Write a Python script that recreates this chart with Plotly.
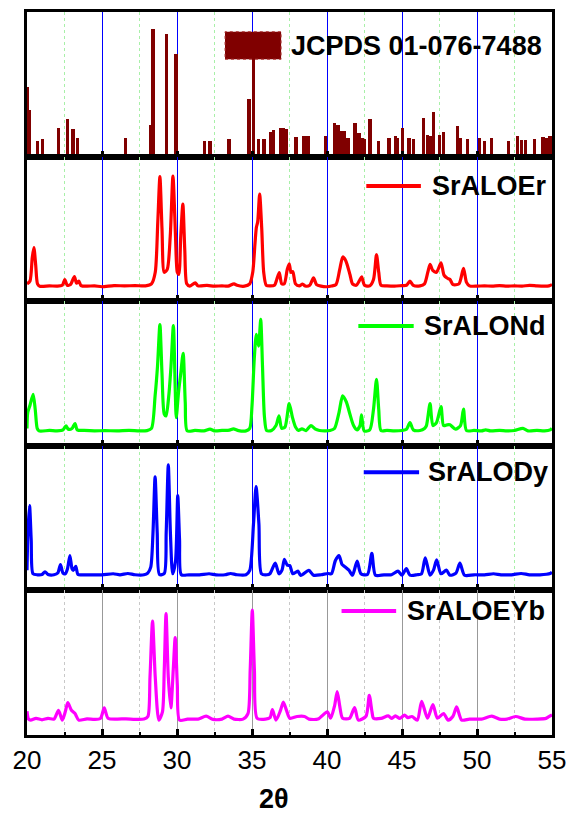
import plotly.graph_objects as go
from plotly.subplots import make_subplots

# ---- reference pattern: JCPDS 01-076-7488 (2theta, relative intensity) ----
ref_2theta = [20.05, 20.17, 20.7, 21.04, 22.1, 22.7, 23.06, 23.37, 26.55, 28.23, 28.4, 29.3,
              29.93, 31.82, 32.2, 33.47, 34.8, 35.1, 35.41, 35.8, 36.26, 36.45, 36.94, 37.09,
              37.3, 37.94, 38.47, 38.74, 39.88, 40.5, 40.73, 40.95, 41.17, 41.4, 41.87, 42.14,
              42.33, 42.52, 42.86, 43.45, 44.13, 44.56, 44.7, 45.05, 45.46, 45.75, 46.41, 46.7,
              46.87, 47.11, 47.52, 47.77, 48.69, 48.86, 49.37, 50.15, 50.5, 50.95, 52.1, 52.7,
              52.96, 53.25, 53.84, 54.4, 54.64, 54.83, 54.95]
ref_intensity = [48, 32, 11, 12, 20, 26, 19, 13, 13, 22, 88, 85,
                 71, 11, 11, 12, 40, 80, 12, 12, 17, 18.5, 20, 20,
                 19, 13.5, 14, 14, 14, 23, 22, 18, 18, 13, 23, 16,
                 13, 12, 26, 11, 13, 14, 13, 20, 13, 12, 27, 15,
                 14, 31, 15, 17, 21, 13, 12, 13, 11, 13, 11, 14,
                 11.5, 11.5, 12, 13.5, 13, 14, 14.5]

# ---- measured patterns (2theta, intensity a.u.) ----
er_2theta = [20.0, 20.2, 20.35, 20.46, 20.58, 20.7, 20.85, 21.5, 22.0, 22.35, 22.52, 22.68, 22.9,
             23.16, 23.3, 23.45, 23.6, 24.0, 24.5, 25.0, 25.8, 26.5, 27.2, 27.9, 28.3, 28.55,
             28.72, 28.86, 29.0, 29.15, 29.35, 29.55, 29.73, 29.9, 30.02, 30.12, 30.25, 30.39,
             30.52, 30.65, 30.85, 31.21, 31.4, 32.0, 32.5, 33.0, 33.4, 33.8, 34.0, 34.5, 34.85,
             35.05, 35.2, 35.29, 35.38, 35.51, 35.65, 35.78, 35.95, 36.2, 36.5, 36.65, 36.82,
             36.98, 37.15, 37.35, 37.48, 37.6, 37.72, 37.9, 38.15, 38.37, 38.55, 38.85, 39.1,
             39.3, 39.6, 40.0, 40.3, 40.6, 40.85, 41.05, 41.25, 41.53, 41.7, 41.95, 42.15, 42.31,
             42.5, 42.85, 43.1, 43.3, 43.45, 43.6, 44.0, 44.5, 45.0, 45.3, 45.53, 45.75, 46.2,
             46.5, 46.72, 46.87, 47.05, 47.3, 47.6, 47.8, 48.0, 48.2, 48.4, 48.8, 49.1, 49.3,
             49.5, 50.0, 50.5, 51.0, 51.5, 52.0, 52.5, 53.0, 53.5, 54.0, 54.5, 54.8, 55.0]
er_int = [12, 14, 30, 37, 25, 12, 10.4, 10.6, 10.4, 11, 15, 11, 11.5,
          17, 12.5, 13.9, 10.8, 10.4, 10.6, 10.0, 10.8, 10.6, 10.8, 10.6, 12, 20,
          55, 86.1, 50, 20, 22, 45, 86.6, 45, 20, 18.5, 45, 67.1,
          35, 12, 10.4, 12.7, 10.6, 10.9, 10.4, 10.6, 10.4, 12, 11, 10.4, 12,
          20, 40, 50.9, 55, 74.1, 50, 20, 11, 10.6, 11, 15, 19.7,
          12, 12, 22, 25.9, 20, 20.4, 12, 10.6, 11.9, 10.5, 11, 16.2,
          11.5, 10.4, 10.0, 10.5, 11.5, 22, 30.6, 28, 18.5, 12, 11, 14, 16.9,
          11, 10.6, 15, 32.2, 20, 11, 10.6, 10.4, 10.8, 11, 13.9, 11, 10.6,
          12, 20, 25.5, 21.3, 20, 26.6, 18, 16, 15.0, 11.5, 12, 22.7, 13,
          10.6, 10.4, 10.6, 10.4, 10.8, 10.4, 10.6, 10.4, 11, 10.6, 10.4, 10.6, 11.5]

nd_2theta = [20.0, 20.05, 20.2, 20.41, 20.55, 20.68, 20.8, 21.5, 22.0, 22.4, 22.6, 22.75, 23.0,
             23.2, 23.35, 23.8, 24.5, 25.2, 26.0, 26.8, 27.5, 28.0, 28.3, 28.54, 28.7, 28.86,
             29.0, 29.15, 29.27, 29.45, 29.6, 29.76, 29.88, 29.95, 30.1, 30.25, 30.41, 30.55,
             30.68, 31.2, 31.8, 32.2, 32.5, 33.0, 33.5, 33.76, 34.1, 34.6, 34.85, 35.0, 35.15,
             35.29, 35.44, 35.58, 35.7, 35.83, 35.98, 36.3, 36.6, 36.8, 36.98, 37.2, 37.48,
             37.7, 37.9, 38.1, 38.33, 38.6, 38.93, 39.2, 39.5, 39.9, 40.2, 40.5, 40.8, 41.04,
             41.29, 41.53, 41.77, 42.0, 42.2, 42.3, 42.48, 42.85, 43.1, 43.3, 43.45, 43.6, 44.0,
             44.5, 45.0, 45.3, 45.53, 45.75, 46.2, 46.5, 46.63, 46.87, 47.06, 47.3, 47.6, 47.77,
             48.0, 48.2, 48.57, 48.9, 49.1, 49.3, 49.8, 50.3, 50.58, 50.9, 51.5, 52.0, 52.5,
             53.06, 53.4, 54.0, 54.5, 54.88, 55.0]
nd_int = [12, 23, 28, 35.6, 25, 12, 10.3, 10.6, 10.3, 11, 13.8, 11.5, 12,
          15.4, 11, 10.6, 10.3, 10.5, 10.3, 10.6, 10.3, 10.5, 12, 34.5, 55, 83.9,
          50, 22, 20.7, 34.5, 55, 83.2, 40, 19.5, 36.8, 50, 63.9, 30,
          10.3, 10.6, 10.3, 11.5, 10.3, 10.6, 10.8, 11.7, 10.5, 10.3, 12, 27.6, 60,
          77.0, 69.0, 87.4, 55, 20, 10.5, 10.6, 14, 20.7, 12, 13, 29.2,
          19.5, 13, 10.6, 11.7, 10.5, 14.0, 11.7, 10.6, 10.3, 10.6, 12, 23.0, 34.5,
          30.3, 21.8, 14.0, 11, 14, 21.4, 10.3, 11, 25.3, 46.0, 25, 10.5, 10.6,
          10.3, 10.6, 11.5, 16.1, 11, 10.6, 12, 14.0, 29.2, 14.0, 16, 27.1, 14.0,
          14.5, 14.5, 11.5, 14, 25.3, 10.5, 10.6, 10.3, 11, 10.3, 10.6, 10.3, 10.6,
          12, 10.3, 10.6, 10.3, 11, 12]

dy_2theta = [20.0, 20.06, 20.17, 20.28, 20.4, 20.7, 21.0, 21.2, 21.4, 21.8, 22.05, 22.23, 22.4,
             22.55, 22.7, 22.86, 23.0, 23.08, 23.25, 23.4, 23.7, 24.3, 25.0, 25.75, 26.2, 26.72,
             27.2, 27.8, 28.05, 28.25, 28.4, 28.54, 28.68, 28.83, 29.15, 29.28, 29.42, 29.56,
             29.71, 29.9, 30.05, 30.17, 30.29, 30.8, 31.5, 32.14, 32.6, 33.2, 33.57, 34.0, 34.6,
             34.85, 35.1, 35.27, 35.46, 35.63, 36.0, 36.19, 36.55, 36.8, 37.0, 37.16, 37.35,
             37.52, 37.72, 38.06, 38.25, 38.79, 39.1, 39.6, 40.07, 40.3, 40.56, 40.8, 41.0, 41.17,
             41.46, 41.7, 42.01, 42.26, 42.7, 42.99, 43.23, 43.8, 44.3, 44.73, 45.0, 45.29, 45.53,
             46.0, 46.3, 46.55, 46.87, 47.1, 47.31, 47.6, 47.96, 48.2, 48.6, 48.86, 49.17, 49.8,
             50.5, 51.1, 51.6, 52.3, 52.94, 53.5, 54.2, 54.88, 55.0]
dy_int = [14, 40, 58.6, 35, 11.5, 10.8, 11, 12.9, 11, 10.8, 12, 17.9, 12,
          11.5, 15, 24.1, 15, 13.8, 16.6, 11, 10.8, 10.8, 10.8, 11.5, 10.8, 11.7,
          10.8, 10.8, 12, 16.1, 40, 78.6, 40, 11, 11.7, 40, 86.9, 40,
          11.5, 20, 65.5, 35, 10.8, 10.8, 10.8, 11.5, 10.8, 10.8, 11.7, 10.8, 10.8,
          13.8, 46.0, 71.7, 46.0, 11.5, 10.8, 11.5, 18.9, 11.5, 14, 21.4, 17.5,
          17.2, 11.5, 13.3, 10.3, 13.8, 10.5, 10.8, 11.7, 11.5, 20.7, 24.1, 18, 16.6,
          14.0, 10.5, 20.2, 11.5, 11, 25.7, 10.5, 10.8, 10.8, 13.3, 10.5, 15.0, 10.5,
          10.8, 11.5, 22.5, 10.5, 14, 21.1, 11.5, 14.0, 10.5, 12, 18.9, 10.5, 10.8,
          10.8, 11.5, 10.8, 10.8, 11.7, 10.8, 10.8, 11.7, 12.5]

yb_2theta = [20.0, 20.1, 20.25, 20.6, 21.0, 21.4, 21.8, 22.1, 22.35, 22.55, 22.72, 22.96, 23.2,
             23.45, 24.0, 24.5, 24.9, 25.15, 25.4, 26.0, 26.6, 27.2, 27.8, 28.06, 28.2, 28.37,
             28.55, 28.79, 29.03, 29.15, 29.27, 29.42, 29.59, 29.75, 29.88, 30.02, 30.17, 30.7,
             31.4, 31.94, 32.4, 33.0, 33.4, 33.8, 34.4, 34.73, 34.88, 35.02, 35.16, 35.34, 35.9,
             36.2, 36.36, 36.6, 36.9, 37.09, 37.3, 37.52, 38.01, 38.5, 38.8, 39.4, 40.02, 40.24,
             40.5, 40.68, 40.85, 41.04, 41.5, 41.84, 42.09, 42.6, 42.82, 43.0, 43.1, 43.6, 44.08,
             44.3, 44.56, 44.85, 45.17, 45.4, 45.66, 46.02, 46.31, 46.7, 47.06, 47.36, 47.77,
             48.08, 48.4, 48.64, 48.98, 49.5, 50.3, 50.99, 51.5, 52.0, 52.57, 53.2, 54.0, 54.6,
             54.76, 55.0]
yb_int = [16.4, 11, 10.3, 11.5, 10.5, 11.5, 11, 17.1, 10.3, 16, 22.4, 17.1, 14.8,
          10.3, 11.2, 10.8, 11.5, 18.7, 11.6, 11.0, 11.2, 10.8, 11, 12.8, 40, 78.8,
          40, 10.3, 16.0, 45, 84.0, 40, 18.7, 45, 67.4, 35, 10.3, 11,
          11, 13.0, 10.8, 11, 13.0, 11, 11, 14.8, 45, 86.3, 45, 11.6, 11,
          12, 17.6, 10.3, 17, 22.8, 17, 11.6, 12.8, 12.8, 11, 11, 16.0, 11.6,
          20, 30.1, 20, 11.6, 11.5, 18.9, 10.3, 13, 27.4, 16, 11.6, 11.5, 13.2,
          11.5, 13.2, 11.5, 13.7, 12, 12.8, 10.3, 23.3, 11.6, 21.0, 11.6, 14.8,
          10.3, 13, 19.4, 10.3, 11, 11, 13.0, 11, 11, 12.8, 11, 11, 11.5,
          12.5, 14]

tick_vals = [20, 25, 30, 35, 40, 45, 50, 55]
tick_text = ["20", "25", "30", "35", "40", "45", "50", "55"]

series = [
    ("SrALOEr", er_2theta, er_int, "#ff0000"),
    ("SrALONd", nd_2theta, nd_int, "#00ff00"),
    ("SrALODy", dy_2theta, dy_int, "#0000ff"),
    ("SrALOEYb", yb_2theta, yb_int, "#ff00ff"),
]
# legend placement per panel: (sample start, sample end, text start, y)
legend_pos = [(42.62, 46.26, 46.87, 79.7),
              (42.09, 45.78, 46.33, 82.8),
              (42.45, 46.14, 46.63, 81.7),
              (40.97, 44.61, 45.17, 85.8)]

FONT = "Liberation Sans, Arial, sans-serif"

fig = make_subplots(rows=5, cols=1, shared_xaxes=True, vertical_spacing=0)

fig.add_trace(go.Bar(x=ref_2theta, y=ref_intensity, width=0.22,
                     marker=dict(color="#800000", line=dict(width=0)),
                     name="JCPDS 01-076-7488"), row=1, col=1)

for i, (name, xs, ys, col) in enumerate(series):
    fig.add_trace(go.Scatter(x=xs, y=ys, mode="lines", name=name,
                             line=dict(color=col, width=3.2, shape="spline", smoothing=0.7)),
                  row=i + 2, col=1)

shapes = []
annotations = []

# JCPDS legend entry
shapes.append(dict(type="rect", xref="x", yref="y", x0=33.2, x1=36.94, y0=67.3, y1=86.4,
                   fillcolor="#800000", line=dict(color="#b04040", width=1, dash="dot"),
                   layer="above"))
annotations.append(dict(xref="x", yref="y", x=37.45, y=76.8, xanchor="left", yanchor="middle",
                        text="<b>JCPDS 01-076-7488</b>", showarrow=False,
                        font=dict(family=FONT, size=27, color="black")))

for i, ((name, xs, ys, col), (lx0, lx1, tx, ly)) in enumerate(zip(series, legend_pos)):
    ax = "x%d" % (i + 2)
    ay = "y%d" % (i + 2)
    shapes.append(dict(type="line", xref=ax, yref=ay, x0=lx0, x1=lx1, y0=ly, y1=ly,
                       line=dict(color=col, width=4), layer="above"))
    annotations.append(dict(xref=ax, yref=ay, x=tx, y=ly, xanchor="left", yanchor="middle",
                            text="<b>%s</b>" % name, showarrow=False,
                            font=dict(family=FONT, size=27, color="black")))

# x-axis title
annotations.append(dict(xref="paper", yref="paper", x=0.47, y=-0.088, xanchor="center",
                        yanchor="middle", text="<b>2θ</b>", showarrow=False,
                        font=dict(family=FONT, size=27, color="black")))

for r in range(1, 6):
    last = (r == 5)
    major_grid = "#999999" if last else "#0000ff"
    minor_grid = "#c8c8c8" if last else "#a8f0a8"
    fig.update_xaxes(
        row=r, col=1, range=[20, 55], tickmode="array", tickvals=tick_vals, ticktext=tick_text,
        showline=True, linecolor="black", linewidth=3, mirror=True, automargin=False,
        ticks="inside", ticklen=6, tickwidth=2.5, tickcolor="black",
        showgrid=True, gridcolor=major_grid, gridwidth=1,
        zeroline=False, showticklabels=last,
        tickfont=dict(family=FONT, size=26, color="black"),
        minor=dict(tickmode="linear", tick0=20, dtick=2.5, ticks="inside", ticklen=3,
                   tickwidth=2, tickcolor="black", showgrid=True, gridcolor=minor_grid,
                   griddash="dot", gridwidth=1),
    )
    fig.update_yaxes(row=r, col=1, range=[0, 100], showline=True, linecolor="black",
                     linewidth=3, mirror=True, ticks="", showticklabels=False,
                     showgrid=False, zeroline=False, fixedrange=True, automargin=False)

fig.update_layout(
    width=569, height=816,
    margin=dict(l=27, r=17, t=12, b=81),
    plot_bgcolor="white", paper_bgcolor="white",
    showlegend=False, bargap=0,
    shapes=shapes, annotations=annotations,
    font=dict(family=FONT, color="black"),
)

fig.write_html("out.html")
